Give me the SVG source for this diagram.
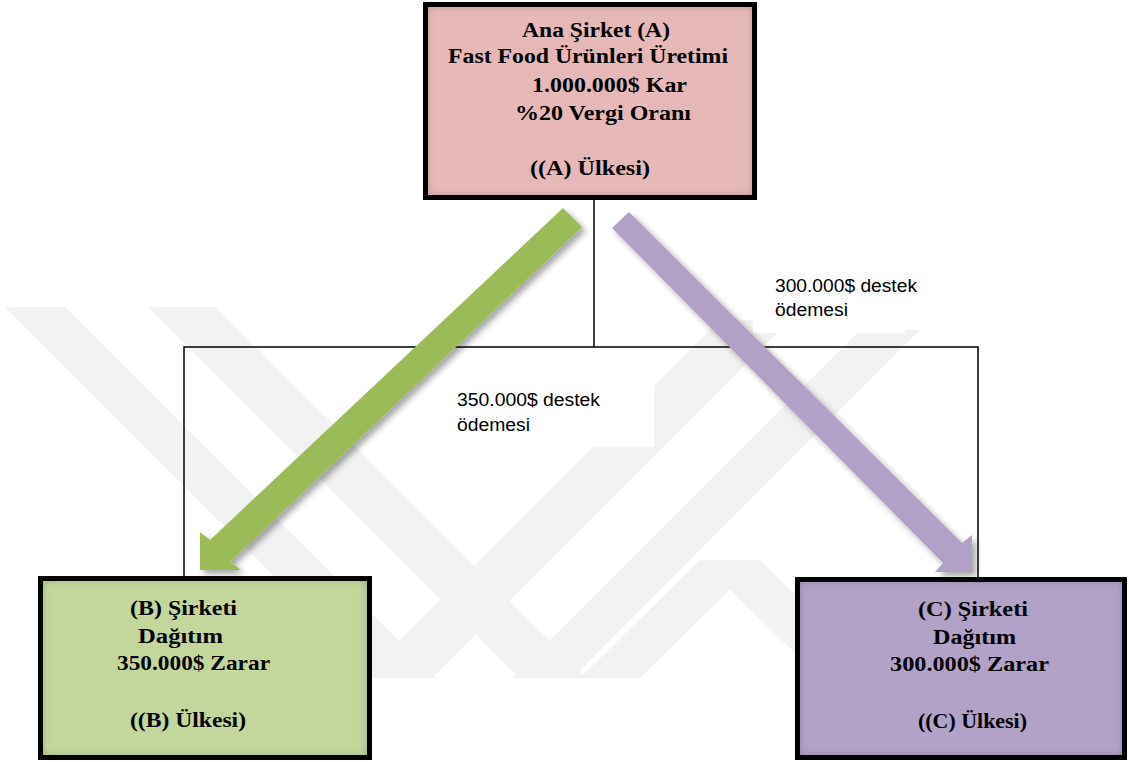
<svg xmlns="http://www.w3.org/2000/svg" width="1129" height="762" viewBox="0 0 1129 762">
<defs>
<style>
.wm{fill:#f2f2f2}
.ln{stroke:#000;stroke-width:1.5;fill:none}
.box{stroke:#000;stroke-width:5;fill:none}
.t{font-family:"Liberation Serif","Times New Roman",serif;font-weight:bold;font-size:20px;fill:#000}
.lb{font-family:"Liberation Sans",Arial,sans-serif;font-size:18px;fill:#000}
</style>
<filter id="inner" x="-10%" y="-10%" width="120%" height="120%">
<feFlood flood-color="#000" flood-opacity="0.65"/>
<feComposite in2="SourceAlpha" operator="out"/>
<feGaussianBlur stdDeviation="5"/>
<feComposite in2="SourceAlpha" operator="in"/>
<feMerge><feMergeNode in="SourceGraphic"/><feMergeNode/></feMerge>
</filter>
<filter id="shadow" x="-10%" y="-10%" width="130%" height="130%">
<feDropShadow dx="4" dy="4" stdDeviation="3" flood-color="#000" flood-opacity="0.35"/>
</filter>
</defs>
<rect width="1129" height="762" fill="#fff"/>
<g id="watermark">
<polygon class="wm" points="5,307 65,307 436,678 376,678"/>
<polygon class="wm" points="148,307 216,307 587,678 519,678"/>
<polygon class="wm" points="720,320 790,320 432,678 362,678"/>
<polygon class="wm" points="860,330 920,330 572,678 512,678"/>
<polygon class="wm" points="700,560 760,560 880,678 820,678"/>
<polygon class="wm" points="700,560 760,560 640,678 580,678"/>
</g>
<g id="connectors">
<polyline class="ln" points="594,200 594,347"/>
<polyline class="ln" points="184,577 184,347 978,347 978,578"/>
</g>
<g id="label-b">
<rect x="438" y="373" width="216" height="74" fill="#fff"/>
<text class="lb" x="457" y="406" textLength="143" lengthAdjust="spacingAndGlyphs">350.000$ destek</text>
<text class="lb" x="457" y="431" textLength="73" lengthAdjust="spacingAndGlyphs">ödemesi</text>
</g>
<g id="label-c">
<rect x="753" y="262" width="152" height="71" fill="#fff"/>
<text class="lb" x="775" y="292" textLength="142" lengthAdjust="spacingAndGlyphs">300.000$ destek</text>
<text class="lb" x="775" y="316" textLength="73" lengthAdjust="spacingAndGlyphs">ödemesi</text>
</g>
<g id="arrows" filter="url(#shadow)">
<polygon id="arrow-b" fill="#9bbb59" points="563,208 582,227 230,562 241,570 200,570 200,532 210,540"/>
<polygon id="arrow-c" fill="#b2a1c7" points="629,212 962,543 972,535 972,572 935,572 943,563 612,228"/>
</g>
<g id="node-a">
<rect x="425.5" y="4.5" width="329" height="193" fill="#e6b9b8" filter="url(#inner)"/>
<rect class="box" x="425.5" y="4.5" width="329" height="193"/>
<text class="t" x="522" y="37" textLength="148" lengthAdjust="spacingAndGlyphs">Ana Şirket (A)</text>
<text class="t" x="448" y="63" textLength="280" lengthAdjust="spacingAndGlyphs">Fast Food Ürünleri Üretimi</text>
<text class="t" x="532" y="92" textLength="155" lengthAdjust="spacingAndGlyphs">1.000.000$ Kar</text>
<text class="t" x="515" y="120" textLength="176" lengthAdjust="spacingAndGlyphs">%20 Vergi Oranı</text>
<text class="t" x="530" y="175" textLength="120" lengthAdjust="spacingAndGlyphs">((A) Ülkesi)</text>
</g>
<g id="node-b">
<rect x="40.5" y="578.5" width="329" height="179" fill="#c3d69b" filter="url(#inner)"/>
<rect class="box" x="40.5" y="578.5" width="329" height="179"/>
<text class="t" x="130" y="615" textLength="107" lengthAdjust="spacingAndGlyphs">(B) Şirketi</text>
<text class="t" x="138" y="643" textLength="85" lengthAdjust="spacingAndGlyphs">Dağıtım</text>
<text class="t" x="117" y="670" textLength="153" lengthAdjust="spacingAndGlyphs">350.000$ Zarar</text>
<text class="t" x="130" y="727" textLength="116" lengthAdjust="spacingAndGlyphs">((B) Ülkesi)</text>
</g>
<g id="node-c">
<rect x="797.5" y="579.5" width="327" height="178" fill="#b2a2c7" filter="url(#inner)"/>
<rect class="box" x="797.5" y="579.5" width="327" height="178"/>
<text class="t" x="918" y="616" textLength="110" lengthAdjust="spacingAndGlyphs">(C) Şirketi</text>
<text class="t" x="933" y="644" textLength="83" lengthAdjust="spacingAndGlyphs">Dağıtım</text>
<text class="t" x="890" y="671" textLength="159" lengthAdjust="spacingAndGlyphs">300.000$ Zarar</text>
<text class="t" x="918" y="728" textLength="109" lengthAdjust="spacingAndGlyphs">((C) Ülkesi)</text>
</g>
</svg>
